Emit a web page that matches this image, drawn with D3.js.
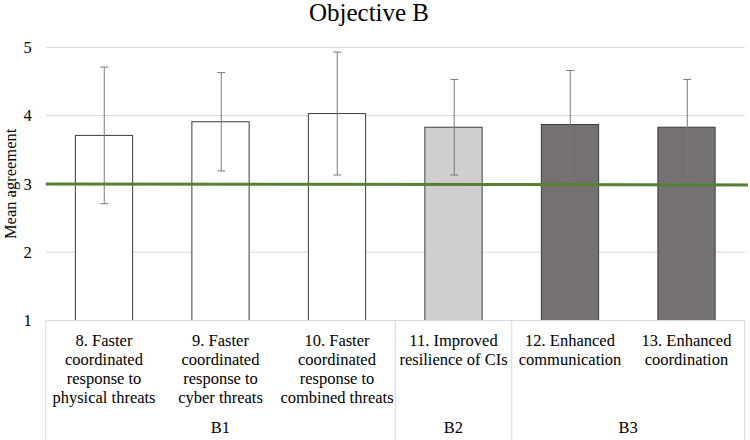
<!DOCTYPE html>
<html>
<head>
<meta charset="utf-8">
<script src="https://cdn.jsdelivr.net/npm/d3@7"></script>
<style>
  html, body { margin: 0; padding: 0; background: #fff; }
  svg { display: block; }
</style>
</head>
<body>
<div id="chart"></div>
<script>
// ---- data ----
const categories = ["8", "9", "10", "11", "12", "13"];
const categoryLines = [
  ["8. Faster", "coordinated", "response to", "physical threats"],
  ["9. Faster", "coordinated", "response to", "cyber threats"],
  ["10. Faster", "coordinated", "response to", "combined threats"],
  ["11. Improved", "resilience of CIs"],
  ["12. Enhanced", "communication"],
  ["13. Enhanced", "coordination"]
];
const categoryGroup = ["B1", "B1", "B1", "B2", "B3", "B3"];
const groups = ["B1", "B2", "B3"];
const means = [3.71, 3.91, 4.03, 3.83, 3.87, 3.83];
const errors = [1.00, 0.72, 0.90, 0.70, 0.79, 0.70];
const yTicks = [1, 2, 3, 4, 5];
const threshold = 3;
const title = "Objective B";
const yTitle = "Mean agreement";

// ---- styles ----
const FONT = "'Liberation Serif', 'Tinos', 'DejaVu Serif', 'Times New Roman', Times, serif";
const groupFill = { B1: "#ffffff", B2: "#d0cece", B3: "#767171" };

const W = 750, H = 440;
const margin = { left: 45.75, right: 5.25, top: 47.3, bottom: 119.5 };
const plotW = W - margin.left - margin.right;
const plotH = H - margin.top - margin.bottom;

const svg = d3.select("#chart").append("svg").attr("width", W).attr("height", H)
  .attr("font-family", FONT).style("font-family", FONT);
const g = svg.append("g").attr("transform", `translate(${margin.left},${margin.top})`);

const x = d3.scaleBand().domain(categories).range([0, plotW]).paddingInner(0.5).paddingOuter(0.25);
const y = d3.scaleLinear().domain([1, 5]).range([plotH, 0]);

// gridlines
g.append("g").selectAll("line").data(yTicks.filter(t => t > 1)).join("line")
  .attr("x1", 0).attr("x2", plotW)
  .attr("y1", d => y(d)).attr("y2", d => y(d))
  .attr("stroke", "#d9d9d9").attr("stroke-width", 1);

// y axis labels
const yAxis = d3.axisLeft(y).tickValues(yTicks).tickSize(0).tickPadding(14).tickFormat(d3.format("d"));
const ya = g.append("g").call(yAxis).attr("font-family", FONT).attr("font-size", 16.5);
ya.select(".domain").remove();
ya.selectAll("text").style("font-family", FONT).style("font-size", "16.5px").attr("fill", "#000");

// bars
g.append("g").selectAll("rect").data(categories).join("rect")
  .attr("x", d => x(d) + 0.5)
  .attr("y", (d, i) => y(means[i]))
  .attr("width", x.bandwidth() - 1)
  .attr("height", (d, i) => y(1) - y(means[i]))
  .attr("fill", (d, i) => groupFill[categoryGroup[i]])
  .attr("stroke", "#3b3b3b").attr("stroke-width", 1);

// error bars
const eb = g.append("g").attr("stroke", "#7a7a7a").attr("stroke-width", 1);
categories.forEach((c, i) => {
  const cx = Math.round(x(c) + x.bandwidth() / 2) + 0.5;
  const top = y(means[i] + errors[i]);
  const bot = y(means[i] - errors[i]);
  eb.append("line").attr("x1", cx).attr("x2", cx).attr("y1", top).attr("y2", bot);
  eb.append("line").attr("x1", cx - 4).attr("x2", cx + 4).attr("y1", top).attr("y2", top);
  eb.append("line").attr("x1", cx - 4).attr("x2", cx + 4).attr("y1", bot).attr("y2", bot);
});

// threshold line
g.append("line")
  .attr("x1", 0).attr("x2", W - margin.left - 2)
  .attr("y1", y(threshold)).attr("y2", y(threshold) + 1)
  .attr("stroke", "#548235").attr("stroke-width", 3);

// category axis box
const axisG = g.append("g").attr("transform", `translate(0,${plotH})`);
axisG.append("line").attr("x1", 0).attr("x2", plotW).attr("y1", 0).attr("y2", 0)
  .attr("stroke", "#d9d9d9").attr("stroke-width", 1);

// group boundaries
const groupSpans = groups.map(gr => {
  const cats = categories.filter((c, i) => categoryGroup[i] === gr);
  const step = x.step();
  const start = x(cats[0]) - x.paddingInner() * step / 2;
  const end = x(cats[cats.length - 1]) + x.bandwidth() + x.paddingInner() * step / 2;
  return { gr, start, end };
});
const bounds = [0].concat(groupSpans.map(s => s.end));
bounds[bounds.length - 1] = plotW;
axisG.selectAll("line.div").data(bounds).join("line").attr("class", "div")
  .attr("x1", d => d).attr("x2", d => d).attr("y1", 0).attr("y2", H - margin.top - plotH)
  .attr("stroke", "#d9d9d9").attr("stroke-width", 1);

// category labels
categories.forEach((c, i) => {
  const t = axisG.append("text")
    .attr("x", x(c) + x.bandwidth() / 2)
    .attr("y", 25)
    .attr("text-anchor", "middle")
    .style("font-family", FONT)
    .style("font-size", "16.5px");
  categoryLines[i].forEach((ln, k) => {
    t.append("tspan").attr("x", x(c) + x.bandwidth() / 2).attr("y", 25 + k * 19.3).text(ln);
  });
});

// group labels
axisG.selectAll("text.grp").data(groupSpans).join("text").attr("class", "grp")
  .attr("x", d => (d.start + d.end) / 2)
  .attr("y", 112.5)
  .attr("text-anchor", "middle")
  .style("font-family", FONT)
  .style("font-size", "16.5px")
  .text(d => d.gr);

// title
svg.append("text").attr("x", 369).attr("y", 21).attr("text-anchor", "middle")
  .style("font-family", FONT)
  .style("font-size", "25px").text(title);

// y title
svg.append("text")
  .attr("transform", `translate(16,${margin.top + plotH / 2}) rotate(-90)`)
  .attr("text-anchor", "middle")
  .style("font-family", FONT)
  .style("font-size", "16.5px")
  .text(yTitle);
</script>
</body>
</html>
